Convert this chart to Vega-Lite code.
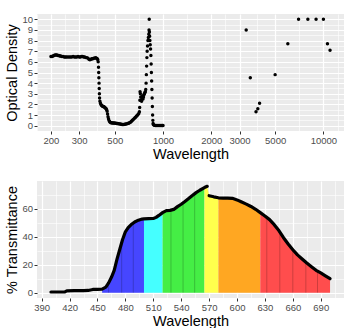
{
  "$schema": "https://vega.github.io/schema/vega-lite/v6.json",
  "padding": {"left": 4, "top": 14, "right": 10, "bottom": 0},
  "background": "white",
  "config": {
    "font": "Liberation Sans",
    "view": {"fill": "#EBEBEB", "stroke": null},
    "axis": {
      "domain": false,
      "tickColor": "#333333",
      "tickSize": 3,
      "labelColor": "#4D4D4D",
      "labelFontSize": 9.5,
      "labelPadding": 1.5,
      "titleFontSize": 14.5,
      "titleFontWeight": "normal",
      "titleColor": "#000000",
      "titlePadding": 2,
      "gridColor": "#FFFFFF",
      "labelFlush": false,
      "labelOverlap": false
    }
  },
  "spacing": 20,
  "datasets": {
    "od": [
      {"wavelength": 200, "od": 6.5}, {"wavelength": 203, "od": 6.5}, {"wavelength": 206, "od": 6.55}, {"wavelength": 209, "od": 6.6},
      {"wavelength": 212, "od": 6.65}, {"wavelength": 215, "od": 6.65}, {"wavelength": 218, "od": 6.65}, {"wavelength": 221, "od": 6.6},
      {"wavelength": 224, "od": 6.6}, {"wavelength": 227, "od": 6.55}, {"wavelength": 230, "od": 6.55}, {"wavelength": 234, "od": 6.5},
      {"wavelength": 238, "od": 6.5}, {"wavelength": 242, "od": 6.45}, {"wavelength": 246, "od": 6.45}, {"wavelength": 250, "od": 6.45},
      {"wavelength": 255, "od": 6.45}, {"wavelength": 260, "od": 6.45}, {"wavelength": 265, "od": 6.45}, {"wavelength": 270, "od": 6.45},
      {"wavelength": 275, "od": 6.5}, {"wavelength": 280, "od": 6.45}, {"wavelength": 285, "od": 6.45}, {"wavelength": 290, "od": 6.45},
      {"wavelength": 295, "od": 6.5}, {"wavelength": 300, "od": 6.45}, {"wavelength": 305, "od": 6.45}, {"wavelength": 310, "od": 6.5},
      {"wavelength": 315, "od": 6.5}, {"wavelength": 320, "od": 6.45}, {"wavelength": 325, "od": 6.45}, {"wavelength": 330, "od": 6.4},
      {"wavelength": 335, "od": 6.4}, {"wavelength": 340, "od": 6.35}, {"wavelength": 345, "od": 6.25}, {"wavelength": 350, "od": 6.2},
      {"wavelength": 355, "od": 6.25}, {"wavelength": 360, "od": 6.3}, {"wavelength": 365, "od": 6.3}, {"wavelength": 370, "od": 6.35},
      {"wavelength": 375, "od": 6.35}, {"wavelength": 380, "od": 6.4}, {"wavelength": 385, "od": 6.35}, {"wavelength": 389, "od": 6.3},
      {"wavelength": 392, "od": 6.2}, {"wavelength": 394, "od": 6.0}, {"wavelength": 396, "od": 5.5}, {"wavelength": 397, "od": 5.0},
      {"wavelength": 398, "od": 4.5}, {"wavelength": 399, "od": 4.0}, {"wavelength": 400, "od": 3.5}, {"wavelength": 401, "od": 3.0},
      {"wavelength": 402, "od": 2.6}, {"wavelength": 404, "od": 2.3}, {"wavelength": 407, "od": 2.1}, {"wavelength": 410, "od": 2.0},
      {"wavelength": 414, "od": 1.9}, {"wavelength": 418, "od": 1.85}, {"wavelength": 422, "od": 1.8}, {"wavelength": 426, "od": 1.8},
      {"wavelength": 430, "od": 1.75}, {"wavelength": 434, "od": 1.7}, {"wavelength": 438, "od": 1.65}, {"wavelength": 442, "od": 1.6},
      {"wavelength": 445, "od": 1.5}, {"wavelength": 448, "od": 1.35}, {"wavelength": 451, "od": 1.1}, {"wavelength": 454, "od": 0.85},
      {"wavelength": 457, "od": 0.65}, {"wavelength": 460, "od": 0.5}, {"wavelength": 464, "od": 0.4}, {"wavelength": 468, "od": 0.32},
      {"wavelength": 473, "od": 0.28}, {"wavelength": 478, "od": 0.27}, {"wavelength": 484, "od": 0.26}, {"wavelength": 490, "od": 0.25},
      {"wavelength": 496, "od": 0.25}, {"wavelength": 502, "od": 0.24}, {"wavelength": 508, "od": 0.22}, {"wavelength": 514, "od": 0.2},
      {"wavelength": 520, "od": 0.2}, {"wavelength": 527, "od": 0.18}, {"wavelength": 534, "od": 0.17}, {"wavelength": 541, "od": 0.15},
      {"wavelength": 548, "od": 0.14}, {"wavelength": 555, "od": 0.12}, {"wavelength": 562, "od": 0.12}, {"wavelength": 570, "od": 0.12},
      {"wavelength": 578, "od": 0.13}, {"wavelength": 586, "od": 0.15}, {"wavelength": 594, "od": 0.17}, {"wavelength": 602, "od": 0.2},
      {"wavelength": 610, "od": 0.23}, {"wavelength": 618, "od": 0.28}, {"wavelength": 626, "od": 0.33}, {"wavelength": 634, "od": 0.4},
      {"wavelength": 642, "od": 0.48}, {"wavelength": 650, "od": 0.56}, {"wavelength": 658, "od": 0.64}, {"wavelength": 666, "od": 0.72},
      {"wavelength": 674, "od": 0.8}, {"wavelength": 682, "od": 0.88}, {"wavelength": 690, "od": 0.96}, {"wavelength": 698, "od": 1.05},
      {"wavelength": 706, "od": 1.15}, {"wavelength": 712, "od": 1.3}, {"wavelength": 715, "od": 1.7}, {"wavelength": 717, "od": 2.4},
      {"wavelength": 719, "od": 3.2}, {"wavelength": 722, "od": 3.0}, {"wavelength": 726, "od": 2.7}, {"wavelength": 730, "od": 2.4},
      {"wavelength": 735, "od": 2.3}, {"wavelength": 740, "od": 2.5}, {"wavelength": 745, "od": 2.8}, {"wavelength": 750, "od": 2.5},
      {"wavelength": 755, "od": 2.7}, {"wavelength": 760, "od": 2.9}, {"wavelength": 765, "od": 3.0}, {"wavelength": 770, "od": 3.1},
      {"wavelength": 775, "od": 3.2}, {"wavelength": 780, "od": 3.4}, {"wavelength": 784, "od": 4.0}, {"wavelength": 787, "od": 4.8},
      {"wavelength": 790, "od": 5.6}, {"wavelength": 793, "od": 6.4}, {"wavelength": 796, "od": 7.0}, {"wavelength": 800, "od": 7.5},
      {"wavelength": 805, "od": 8.0}, {"wavelength": 810, "od": 8.3}, {"wavelength": 815, "od": 8.6}, {"wavelength": 818, "od": 9.0},
      {"wavelength": 820, "od": 10.0}, {"wavelength": 822, "od": 8.8}, {"wavelength": 825, "od": 8.4}, {"wavelength": 828, "od": 8.0},
      {"wavelength": 832, "od": 7.6}, {"wavelength": 836, "od": 7.2}, {"wavelength": 840, "od": 6.6}, {"wavelength": 843, "od": 5.8},
      {"wavelength": 846, "od": 5.0}, {"wavelength": 849, "od": 4.2}, {"wavelength": 852, "od": 3.4}, {"wavelength": 855, "od": 2.6},
      {"wavelength": 858, "od": 1.8}, {"wavelength": 861, "od": 1.0}, {"wavelength": 864, "od": 0.5}, {"wavelength": 867, "od": 0.2},
      {"wavelength": 870, "od": 0.1}, {"wavelength": 880, "od": 0.05}, {"wavelength": 890, "od": 0.03}, {"wavelength": 900, "od": 0.02},
      {"wavelength": 915, "od": 0.02}, {"wavelength": 930, "od": 0.02}, {"wavelength": 945, "od": 0.02}, {"wavelength": 960, "od": 0.02},
      {"wavelength": 975, "od": 0.02}, {"wavelength": 990, "od": 0.02}, {"wavelength": 1000, "od": 0.02},
      {"wavelength": 3300, "od": 9.0}, {"wavelength": 3500, "od": 4.5}, {"wavelength": 3800, "od": 1.3}, {"wavelength": 3900, "od": 1.6},
      {"wavelength": 4000, "od": 2.1}, {"wavelength": 5000, "od": 4.8}, {"wavelength": 6000, "od": 7.7}, {"wavelength": 7000, "od": 10},
      {"wavelength": 8000, "od": 10}, {"wavelength": 9000, "od": 10}, {"wavelength": 10000, "od": 10}, {"wavelength": 10600, "od": 7.7},
      {"wavelength": 11000, "od": 7.1}
    ],
    "trans": [
      {"wavelength": 400, "t": 0.5, "band": null, "piece": "a"}, {"wavelength": 405, "t": 0.5, "band": null, "piece": "a"},
      {"wavelength": 410, "t": 0.5, "band": null, "piece": "a"}, {"wavelength": 415, "t": 0.6, "band": null, "piece": "a"},
      {"wavelength": 417, "t": 1.3, "band": null, "piece": "a"}, {"wavelength": 425, "t": 1.4, "band": null, "piece": "a"},
      {"wavelength": 435, "t": 1.5, "band": null, "piece": "a"}, {"wavelength": 440, "t": 1.6, "band": null, "piece": "a"},
      {"wavelength": 445, "t": 2.3, "band": null, "piece": "a"}, {"wavelength": 450, "t": 2.4, "band": null, "piece": "a"},
      {"wavelength": 455, "t": 2.6, "band": "blue", "piece": "a"}, {"wavelength": 459, "t": 4.0, "band": "blue", "piece": "a"},
      {"wavelength": 462, "t": 7.0, "band": "blue", "piece": "a"}, {"wavelength": 465, "t": 11, "band": "blue", "piece": "a"},
      {"wavelength": 468, "t": 16, "band": "blue", "piece": "a"}, {"wavelength": 471, "t": 24, "band": "blue", "piece": "a"},
      {"wavelength": 474, "t": 31, "band": "blue", "piece": "a"}, {"wavelength": 477, "t": 38, "band": "blue", "piece": "a"},
      {"wavelength": 480, "t": 43.5, "band": "blue", "piece": "a"}, {"wavelength": 483, "t": 46.5, "band": "blue", "piece": "a"},
      {"wavelength": 486, "t": 48.5, "band": "blue", "piece": "a"}, {"wavelength": 490, "t": 50.5, "band": "blue", "piece": "a"},
      {"wavelength": 494, "t": 51.8, "band": "blue", "piece": "a"}, {"wavelength": 498, "t": 52.6, "band": "blue", "piece": "a"},
      {"wavelength": 500, "t": 52.8, "band": "blue", "piece": "a"}, {"wavelength": 500, "t": 52.8, "band": "cyan", "piece": "a"},
      {"wavelength": 505, "t": 52.9, "band": "cyan", "piece": "a"}, {"wavelength": 510, "t": 53, "band": "cyan", "piece": "a"},
      {"wavelength": 513, "t": 53.8, "band": "cyan", "piece": "a"}, {"wavelength": 516, "t": 55.2, "band": "cyan", "piece": "a"},
      {"wavelength": 520, "t": 57.2, "band": "cyan", "piece": "a"}, {"wavelength": 520, "t": 57.2, "band": "green", "piece": "a"},
      {"wavelength": 524, "t": 58.6, "band": "green", "piece": "a"}, {"wavelength": 528, "t": 58.8, "band": "green", "piece": "a"},
      {"wavelength": 532, "t": 59.5, "band": "green", "piece": "a"}, {"wavelength": 536, "t": 61.5, "band": "green", "piece": "a"},
      {"wavelength": 540, "t": 63.2, "band": "green", "piece": "a"}, {"wavelength": 544, "t": 65.2, "band": "green", "piece": "a"},
      {"wavelength": 548, "t": 67.3, "band": "green", "piece": "a"}, {"wavelength": 552, "t": 69.5, "band": "green", "piece": "a"},
      {"wavelength": 556, "t": 71.5, "band": "green", "piece": "a"}, {"wavelength": 560, "t": 73.2, "band": "green", "piece": "a"},
      {"wavelength": 565, "t": 75.1, "band": "green", "piece": "a"}, {"wavelength": 565, "t": 75.1, "band": "yellow", "piece": "a"},
      {"wavelength": 568, "t": 76.0, "band": "yellow", "piece": "a"}, {"wavelength": 570, "t": 69.3, "band": "yellow", "piece": "b"},
      {"wavelength": 575, "t": 68.5, "band": "yellow", "piece": "b"}, {"wavelength": 580, "t": 67.8, "band": "yellow", "piece": "b"},
      {"wavelength": 580, "t": 67.8, "band": "orange", "piece": "b"}, {"wavelength": 585, "t": 67.6, "band": "orange", "piece": "b"},
      {"wavelength": 590, "t": 67.6, "band": "orange", "piece": "b"}, {"wavelength": 595, "t": 67.4, "band": "orange", "piece": "b"},
      {"wavelength": 600, "t": 66.3, "band": "orange", "piece": "b"}, {"wavelength": 605, "t": 64.8, "band": "orange", "piece": "b"},
      {"wavelength": 610, "t": 63.3, "band": "orange", "piece": "b"}, {"wavelength": 615, "t": 61.6, "band": "orange", "piece": "b"},
      {"wavelength": 620, "t": 59.6, "band": "orange", "piece": "b"}, {"wavelength": 625, "t": 57.2, "band": "orange", "piece": "b"},
      {"wavelength": 625, "t": 57.2, "band": "red", "piece": "b"}, {"wavelength": 630, "t": 54.8, "band": "red", "piece": "b"},
      {"wavelength": 635, "t": 52.2, "band": "red", "piece": "b"}, {"wavelength": 640, "t": 48.6, "band": "red", "piece": "b"},
      {"wavelength": 645, "t": 44.4, "band": "red", "piece": "b"}, {"wavelength": 650, "t": 39.3, "band": "red", "piece": "b"},
      {"wavelength": 655, "t": 34.8, "band": "red", "piece": "b"}, {"wavelength": 660, "t": 30.7, "band": "red", "piece": "b"},
      {"wavelength": 665, "t": 27, "band": "red", "piece": "b"}, {"wavelength": 670, "t": 24.1, "band": "red", "piece": "b"},
      {"wavelength": 675, "t": 21.2, "band": "red", "piece": "b"}, {"wavelength": 680, "t": 18.6, "band": "red", "piece": "b"},
      {"wavelength": 685, "t": 16, "band": "red", "piece": "b"}, {"wavelength": 690, "t": 14.1, "band": "red", "piece": "b"},
      {"wavelength": 695, "t": 12, "band": "red", "piece": "b"}, {"wavelength": 700, "t": 10, "band": "red", "piece": "b"}
    ],
    "seams": [
      {"wavelength": 462, "t": 7}, {"wavelength": 476, "t": 36}, {"wavelength": 488.5, "t": 49.5},
      {"wavelength": 529, "t": 59}, {"wavelength": 542, "t": 64.2}, {"wavelength": 554.5, "t": 70.7},
      {"wavelength": 632, "t": 53.8}, {"wavelength": 646, "t": 43.4}, {"wavelength": 660, "t": 30.7},
      {"wavelength": 674, "t": 21.8}, {"wavelength": 686.5, "t": 15.4}
    ]
  },
  "vconcat": [
    {
      "width": 307,
      "height": 117,
      "data": {"name": "od"},
      "mark": {"type": "point", "filled": true, "size": 12, "color": "#000000", "opacity": 1},
      "encoding": {
        "x": {
          "field": "wavelength", "type": "quantitative",
          "scale": {"type": "log", "domain": [163.7, 13440], "nice": false},
          "axis": {
            "title": "Wavelength",
            "values": [163.7, 200, 245, 300, 387, 500, 707, 1000, 1414, 2000, 2449, 3000, 3873, 5000, 7071, 10000, 12247],
            "labelExpr": "indexof([200,300,500,1000,2000,3000,5000,10000], datum.value) >= 0 ? format(datum.value, 'd') : ''",
            "tickOpacity": {"condition": {"test": "indexof([200,300,500,1000,2000,3000,5000,10000], datum.value) < 0", "value": 0}, "value": 1},
            "gridWidth": {"condition": {"test": "indexof([200,300,500,1000,2000,3000,5000,10000], datum.value) < 0", "value": 0.6}, "value": 1.2}
          }
        },
        "y": {
          "field": "od", "type": "quantitative",
          "scale": {"domain": [-0.5, 10.5], "nice": false, "zero": false},
          "axis": {
            "title": "Optical Density",
            "values": [0, 0.5, 1, 1.5, 2, 2.5, 3, 3.5, 4, 4.5, 5, 5.5, 6, 6.5, 7, 7.5, 8, 8.5, 9, 9.5, 10],
            "labelExpr": "datum.value % 1 == 0 ? format(datum.value, 'd') : ''",
            "tickOpacity": {"condition": {"test": "datum.value % 1 != 0", "value": 0}, "value": 1},
            "gridWidth": {"condition": {"test": "datum.value % 1 != 0", "value": 0.6}, "value": 1.2}
          }
        }
      }
    },
    {
      "width": 307,
      "height": 117,
      "encoding": {
        "x": {
          "field": "wavelength", "type": "quantitative",
          "scale": {"domain": [385, 715], "nice": false, "zero": false},
          "axis": {
            "title": "Wavelength",
            "values": [390, 405, 420, 435, 450, 465, 480, 495, 510, 525, 540, 555, 570, 585, 600, 615, 630, 645, 660, 675, 690, 705],
            "labelExpr": "(datum.value - 390) % 30 == 0 ? format(datum.value, 'd') : ''",
            "tickOpacity": {"condition": {"test": "(datum.value - 390) % 30 != 0", "value": 0}, "value": 1},
            "gridWidth": {"condition": {"test": "(datum.value - 390) % 30 != 0", "value": 0.6}, "value": 1.2}
          }
        },
        "y": {
          "field": "t", "type": "quantitative",
          "scale": {"domain": [-3.8, 79.8], "nice": false, "zero": false},
          "axis": {
            "title": "% Transmittance",
            "values": [0, 10, 20, 30, 40, 50, 60, 70],
            "labelExpr": "datum.value % 20 == 0 ? format(datum.value, 'd') : ''",
            "tickOpacity": {"condition": {"test": "datum.value % 20 != 0", "value": 0}, "value": 1},
            "gridWidth": {"condition": {"test": "datum.value % 20 != 0", "value": 0.6}, "value": 1.2}
          }
        }
      },
      "layer": [
        {
          "data": {"name": "trans"},
          "transform": [{"filter": "datum.band != null"}],
          "mark": {"type": "area", "opacity": 1},
          "encoding": {
            "y": {"field": "t", "type": "quantitative", "stack": null},
            "y2": {"datum": 0},
            "color": {
              "field": "band", "type": "nominal", "legend": null,
              "scale": {"domain": ["blue", "cyan", "green", "yellow", "orange", "red"],
                        "range": ["#4646FF", "#45FFFF", "#45EE45", "#FFFF4D", "#FFA722", "#FF4D4D"]}
            }
          }
        },
        {
          "data": {"name": "seams"},
          "mark": {"type": "rule", "color": "#000000", "opacity": 0.2, "strokeWidth": 1},
          "encoding": {"y2": {"datum": 0}}
        },
        {
          "data": {"name": "trans"},
          "mark": {"type": "line", "color": "#000000", "strokeWidth": 3.2, "strokeCap": "round", "strokeJoin": "round"},
          "encoding": {"detail": {"field": "piece"}}
        }
      ]
    }
  ]
}
